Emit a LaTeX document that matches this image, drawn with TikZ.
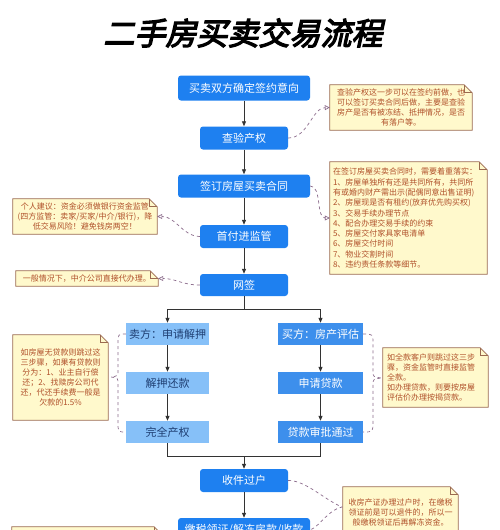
\documentclass[tikz,border=0pt]{standalone}
\usepackage{fontspec}
\setmainfont{Noto Sans CJK SC}
\newfontfamily\titlefont{Noto Sans CJK SC}[FakeSlant=0.22,FakeBold=4]
\usetikzlibrary{arrows.meta,calc}
\pgfdeclarelayer{background}
\pgfsetlayers{background,main}
\definecolor{mainblue}{HTML}{1E80F0}
\definecolor{lightblue}{HTML}{86C0F8}
\definecolor{buyblue}{HTML}{3D8FEC}
\definecolor{navytext}{HTML}{1F3F73}
\definecolor{notefill}{HTML}{FFF9CC}
\definecolor{noteline}{HTML}{9B6A50}
\definecolor{notetext}{HTML}{B0502A}
\definecolor{dashcol}{HTML}{8C6C8C}
\definecolor{arrowcol}{HTML}{333333}
\tikzset{
  mainbox/.style={fill=mainblue, rounded corners=3pt, text=white, font=\fontsize{11}{13}\selectfont, inner sep=0pt},
  sellbox/.style={fill=lightblue, text=navytext, font=\fontsize{11}{13}\selectfont, inner sep=0pt, minimum width=83pt, minimum height=22pt},
  buybox/.style={fill=buyblue, text=white, font=\fontsize{11}{13}\selectfont, inner sep=0pt, minimum width=85pt, minimum height=22pt},
  notebox/.style={text=notetext, font=\fontsize{8}{10}\selectfont, inner sep=0pt},
  noteborder/.style={draw=noteline, fill=notefill, line width=0.8pt},
  flow/.style={draw=arrowcol, line width=0.8pt, -{Triangle[length=5pt,width=4pt]}},
  flowline/.style={draw=arrowcol, line width=0.8pt},
  dashc/.style={draw=dashcol, dashed, line width=0.7pt},
  dashtip/.style={dashc, -{Triangle[open,length=5pt,width=5pt]}},
}
\begin{document}
\begin{tikzpicture}[x=1pt,y=-1pt]
\useasboundingbox (0,0) rectangle (500,530);
\clip (0,0) rectangle (500,530);

% title
\node[font=\titlefont\fontsize{31}{31}\selectfont, text=black] (title) at (243,33) {二手房买卖交易流程};

% main flow boxes
\node[mainbox, minimum width=132pt, minimum height=25pt] (b1) at (244,88) {买卖双方确定签约意向};
\node[mainbox, minimum width=88pt, minimum height=23pt] (b2) at (244,138) {查验产权};
\node[mainbox, minimum width=132pt, minimum height=23pt] (b3) at (244,186) {签订房屋买卖合同};
\node[mainbox, minimum width=88pt, minimum height=23pt] (b4) at (244,236.5) {首付进监管};
\node[mainbox, minimum width=88pt, minimum height=22pt] (b5) at (244,285) {网签};
\node[sellbox] (s1) at (167.5,334) {卖方：申请解押};
\node[sellbox] (s2) at (167.5,383) {解押还款};
\node[sellbox] (s3) at (167.5,432) {完全产权};
\node[buybox] (p1) at (320.5,334) {买方：房产评估};
\node[buybox] (p2) at (320.5,383) {申请贷款};
\node[buybox] (p3) at (320.5,432) {贷款审批通过};
\node[mainbox, minimum width=88pt, minimum height=23pt] (b6) at (244,480.5) {收件过户};
\node[mainbox, minimum width=132pt, minimum height=24pt] (b7) at (244,530) {缴税领证/解冻房款/收款};

% notes
\node[notebox, align=center, minimum width=142pt, minimum height=45pt] (n1) at (401,107.5)
  {查验产权这一步可以在签约前做，也\\可以签订买卖合同后做，主要是查验\\房产是否有被冻结、抵押情况，是否\\有落户等。};
\node[notebox, align=left, minimum width=157pt, minimum height=112pt, text width=151pt] (n2) at (408.5,218)
  {\fontsize{8}{10.3}\selectfont 在签订房屋买卖合同时，需要着重落实：\\1、房屋单独所有还是共同所有，共同所\\有或婚内财产需出示(配偶同意出售证明)\\2、房屋现是否有租约(放弃优先购买权)\\3、交易手续办理节点\\4、配合办理交易手续的约束\\5、房屋交付家具家电清单\\6、房屋交付时间\\7、物业交割时间\\8、违约责任条款等细节。};
\node[notebox, align=center, minimum width=144pt, minimum height=35pt] (n3) at (85,216.5)
  {个人建议：资金必须做银行资金监管\\(四方监管：卖家/买家/中介/银行)，降\\低交易风险！避免钱房两空！};
\node[notebox, align=center, minimum width=142pt, minimum height=15pt] (n4) at (87,278.5)
  {一般情况下，中介公司直接代办理。};
\node[notebox, align=center, minimum width=95pt, minimum height=85pt] (n5) at (60.5,377.5)
  {如房屋无贷款则跳过这\\三步骤，如果有贷款则\\分为：1、业主自行偿\\还；2、找赎房公司代\\还，代还手续费一般是\\欠款的1.5\%};
\node[notebox, align=left, minimum width=105pt, minimum height=59pt, text width=97pt] (n6) at (435.5,377.5)
  {如全款客户则跳过这三步\\骤，资金监管时直接监管\\全款。\\如办理贷款，则要按房屋\\评估价办理按揭贷款。};
\node[notebox, align=center, minimum width=115pt, minimum height=50pt] (n7) at (400.5,512)
  {收房产证办理过户时，在缴税\\领证前是可以退件的，所以一\\般缴税领证后再解冻资金。};
\node[notebox, minimum width=150pt, minimum height=36pt] (n8) at (87,545) {};

\begin{pgfonlayer}{background}
\fill[white] (0,0) rectangle (500,530);
\foreach \n in {n1,n2,n3,n4,n5,n6,n7,n8} {
  \draw[noteborder] (\n.north west) -- ($(\n.north east)+(-8pt,0pt)$) -- ($(\n.north east)+(0pt,-8pt)$) -- (\n.south east) -- (\n.south west) -- cycle;
  \draw[draw=noteline, line width=0.8pt] ($(\n.north east)+(-8pt,0pt)$) -- ($(\n.north east)+(-8pt,-8pt)$) -- ($(\n.north east)+(0pt,-8pt)$);
}
\end{pgfonlayer}

% flow arrows
\draw[flow] (b1.south) -- (b2.north);
\draw[flow] (b2.south) -- (b3.north);
\draw[flow] (b3.south) -- (b4.north);
\draw[flow] (b4.south) -- (b5.north);
\coordinate (split) at (244,309);
\draw[flowline] (b5.south) -- (split);
\draw[flow] (split) -| (s1.north);
\draw[flow] (split) -| (p1.north);
\draw[flow] (s1.south) -- (s2.north);
\draw[flow] (s2.south) -- (s3.north);
\draw[flow] (p1.south) -- (p2.north);
\draw[flow] (p2.south) -- (p3.north);
\coordinate (merge) at (244,456);
\draw[flowline] (s3.south) |- (merge);
\draw[flowline] (p3.south) |- (merge);
\draw[flow] (merge) -- (b6.north);
\draw[flow] (b6.south) -- (b7.north);

% dashed note connectors
\draw[dashtip] (b2.east) .. controls (308,138) and (312,108) .. (n1.west);
\draw[dashtip] (b3.east) .. controls (322,186) and (316,218) .. (n2.west);
\draw[dashtip] (b4.west) .. controls (182,236) and (176,216.5) .. (n3.east);
\draw[dashtip] (b5.west) .. controls (182,285) and (176,278.5) .. (n4.east);
\coordinate (bl) at (111,377);
\draw[dashc] (s1.west) .. controls (118,334) .. (118,344) -- (118,370) .. controls (118,376) .. (bl)
  .. controls (118,378) .. (118,384) -- (118,422) .. controls (118,432) .. (s3.west);
\coordinate (br) at (382,378);
\draw[dashc] (p1.east) .. controls (373,334) .. (373,344) -- (373,371) .. controls (373,377) .. (br)
  .. controls (373,379) .. (373,385) -- (373,422) .. controls (373,432) .. (p3.east);
\coordinate (bm) at (342,507);
\draw[dashc] (b6.east) .. controls (305,480) and (325,500) .. (bm) .. controls (328,510) and (320,526) .. (b7.east);
\end{tikzpicture}
\end{document}
